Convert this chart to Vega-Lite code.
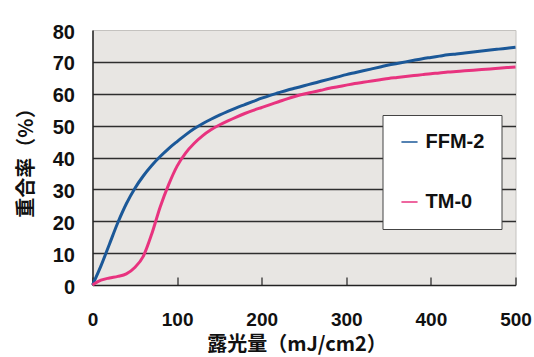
{
  "$schema": "https://vega.github.io/schema/vega-lite/v6.json",
  "autosize": {"type": "none"},
  "width": 423,
  "height": 255,
  "padding": {"left": 92.5, "top": 30, "right": 18.5, "bottom": 72},
  "background": "#ffffff",
  "config": {
    "view": {"fill": "#e8e6e3", "stroke": "#c4c2bf", "strokeWidth": 1}
  },
  "data": {
    "values": [
      {"s": "FFM-2", "x": 0, "y": 0}, {"s": "FFM-2", "x": 10, "y": 6}, {"s": "FFM-2", "x": 20, "y": 12.8}, {"s": "FFM-2", "x": 30, "y": 19.6},
      {"s": "FFM-2", "x": 40, "y": 25.5}, {"s": "FFM-2", "x": 50, "y": 30.3}, {"s": "FFM-2", "x": 60, "y": 34.2}, {"s": "FFM-2", "x": 70, "y": 37.5},
      {"s": "FFM-2", "x": 80, "y": 40.3}, {"s": "FFM-2", "x": 90, "y": 42.8}, {"s": "FFM-2", "x": 100, "y": 45}, {"s": "FFM-2", "x": 110, "y": 47.1},
      {"s": "FFM-2", "x": 120, "y": 49}, {"s": "FFM-2", "x": 130, "y": 50.6}, {"s": "FFM-2", "x": 140, "y": 52}, {"s": "FFM-2", "x": 150, "y": 53.3},
      {"s": "FFM-2", "x": 160, "y": 54.5}, {"s": "FFM-2", "x": 170, "y": 55.6}, {"s": "FFM-2", "x": 180, "y": 56.6}, {"s": "FFM-2", "x": 190, "y": 57.6},
      {"s": "FFM-2", "x": 200, "y": 58.6}, {"s": "FFM-2", "x": 210, "y": 59.5}, {"s": "FFM-2", "x": 220, "y": 60.3}, {"s": "FFM-2", "x": 230, "y": 61.1},
      {"s": "FFM-2", "x": 240, "y": 61.8}, {"s": "FFM-2", "x": 250, "y": 62.5}, {"s": "FFM-2", "x": 260, "y": 63.2}, {"s": "FFM-2", "x": 270, "y": 63.9},
      {"s": "FFM-2", "x": 280, "y": 64.6}, {"s": "FFM-2", "x": 290, "y": 65.3}, {"s": "FFM-2", "x": 300, "y": 66}, {"s": "FFM-2", "x": 310, "y": 66.6},
      {"s": "FFM-2", "x": 320, "y": 67.2}, {"s": "FFM-2", "x": 330, "y": 67.8}, {"s": "FFM-2", "x": 340, "y": 68.4}, {"s": "FFM-2", "x": 350, "y": 69},
      {"s": "FFM-2", "x": 360, "y": 69.5}, {"s": "FFM-2", "x": 370, "y": 70}, {"s": "FFM-2", "x": 380, "y": 70.5}, {"s": "FFM-2", "x": 390, "y": 71},
      {"s": "FFM-2", "x": 400, "y": 71.4}, {"s": "FFM-2", "x": 410, "y": 71.8}, {"s": "FFM-2", "x": 420, "y": 72.2}, {"s": "FFM-2", "x": 430, "y": 72.5},
      {"s": "FFM-2", "x": 440, "y": 72.8}, {"s": "FFM-2", "x": 450, "y": 73.1}, {"s": "FFM-2", "x": 460, "y": 73.4}, {"s": "FFM-2", "x": 470, "y": 73.7},
      {"s": "FFM-2", "x": 480, "y": 74}, {"s": "FFM-2", "x": 490, "y": 74.3}, {"s": "FFM-2", "x": 500, "y": 74.6},
      {"s": "TM-0", "x": 0, "y": 0}, {"s": "TM-0", "x": 10, "y": 1.5}, {"s": "TM-0", "x": 20, "y": 2.2}, {"s": "TM-0", "x": 30, "y": 2.7},
      {"s": "TM-0", "x": 40, "y": 3.5}, {"s": "TM-0", "x": 50, "y": 5.5}, {"s": "TM-0", "x": 60, "y": 9}, {"s": "TM-0", "x": 70, "y": 16},
      {"s": "TM-0", "x": 80, "y": 24.5}, {"s": "TM-0", "x": 90, "y": 31.5}, {"s": "TM-0", "x": 100, "y": 37.3}, {"s": "TM-0", "x": 110, "y": 41.4},
      {"s": "TM-0", "x": 120, "y": 44.4}, {"s": "TM-0", "x": 130, "y": 46.8}, {"s": "TM-0", "x": 140, "y": 48.7}, {"s": "TM-0", "x": 150, "y": 50.2},
      {"s": "TM-0", "x": 160, "y": 51.5}, {"s": "TM-0", "x": 170, "y": 52.7}, {"s": "TM-0", "x": 180, "y": 53.8}, {"s": "TM-0", "x": 190, "y": 54.8},
      {"s": "TM-0", "x": 200, "y": 55.7}, {"s": "TM-0", "x": 210, "y": 56.6}, {"s": "TM-0", "x": 220, "y": 57.5}, {"s": "TM-0", "x": 230, "y": 58.4},
      {"s": "TM-0", "x": 240, "y": 59.2}, {"s": "TM-0", "x": 250, "y": 59.9}, {"s": "TM-0", "x": 260, "y": 60.5}, {"s": "TM-0", "x": 270, "y": 61.1},
      {"s": "TM-0", "x": 280, "y": 61.7}, {"s": "TM-0", "x": 290, "y": 62.2}, {"s": "TM-0", "x": 300, "y": 62.7}, {"s": "TM-0", "x": 310, "y": 63.2},
      {"s": "TM-0", "x": 320, "y": 63.6}, {"s": "TM-0", "x": 330, "y": 64}, {"s": "TM-0", "x": 340, "y": 64.4}, {"s": "TM-0", "x": 350, "y": 64.8},
      {"s": "TM-0", "x": 360, "y": 65.1}, {"s": "TM-0", "x": 370, "y": 65.4}, {"s": "TM-0", "x": 380, "y": 65.7}, {"s": "TM-0", "x": 390, "y": 66},
      {"s": "TM-0", "x": 400, "y": 66.3}, {"s": "TM-0", "x": 410, "y": 66.5}, {"s": "TM-0", "x": 420, "y": 66.8}, {"s": "TM-0", "x": 430, "y": 67},
      {"s": "TM-0", "x": 440, "y": 67.2}, {"s": "TM-0", "x": 450, "y": 67.4}, {"s": "TM-0", "x": 460, "y": 67.6}, {"s": "TM-0", "x": 470, "y": 67.8},
      {"s": "TM-0", "x": 480, "y": 68}, {"s": "TM-0", "x": 490, "y": 68.2}, {"s": "TM-0", "x": 500, "y": 68.4}
    ]
  },
  "mark": {"type": "line", "strokeWidth": 3, "interpolate": "monotone"},
  "encoding": {
    "x": {
      "field": "x", "type": "quantitative",
      "scale": {"domain": [0, 500], "nice": false},
      "axis": {
        "values": [0, 100, 200, 300, 400, 500],
        "title": "露光量（mJ/cm2）",
        "grid": false,
        "domainColor": "#222", "domainWidth": 1.5,
        "tickColor": "#222", "tickWidth": 1.2, "tickSize": -8,
        "labelFont": "Liberation Sans", "labelFontSize": 19, "labelFontWeight": "bold", "labelColor": "#111",
        "labelPadding": 33, "labelFlush": false,
        "titleFont": "Noto Sans CJK JP", "titleFontSize": 20, "titleFontWeight": "bold", "titleColor": "#111",
        "titlePadding": 5, "titleX": 204
      }
    },
    "y": {
      "field": "y", "type": "quantitative",
      "scale": {"domain": [0, 80], "nice": false},
      "axis": {
        "values": [0, 10, 20, 30, 40, 50, 60, 70, 80],
        "title": "重合率（%）",
        "grid": true,
        "gridColor": {"condition": {"test": "datum.value == 0 || datum.value == 80", "value": "transparent"}, "value": "#2e2e2e"},
        "gridWidth": 1.4,
        "domainColor": "#222", "domainWidth": 1.5,
        "ticks": false,
        "labelFont": "Liberation Sans", "labelFontSize": 20, "labelFontWeight": "bold", "labelColor": "#111",
        "labelPadding": 18, "labelOffset": 2,
        "titleFont": "Noto Sans CJK JP", "titleFontSize": 20, "titleFontWeight": "bold", "titleColor": "#111",
        "titlePadding": 16
      }
    },
    "color": {
      "field": "s", "type": "nominal",
      "scale": {"domain": ["FFM-2", "TM-0"], "range": ["#1b5898", "#e8337f"]},
      "legend": {
        "title": null,
        "orient": "none", "legendX": 290, "legendY": 85,
        "fillColor": "#ffffff", "strokeColor": "#444444",
        "padding": 17, "rowPadding": 40,
        "symbolType": "stroke", "symbolSize": 260, "symbolStrokeWidth": 1.5,
        "labelFont": "Liberation Sans", "labelFontSize": 20, "labelFontWeight": "bold", "labelColor": "#111",
        "labelOffset": 6,
        "encode": {
          "symbols": {"update": {"stroke": [{"test": "datum.value === 'FFM-2'", "value": "#3fb4d6"}, {"value": "#ee5aa0"}]}}
        }
      }
    }
  }
}
